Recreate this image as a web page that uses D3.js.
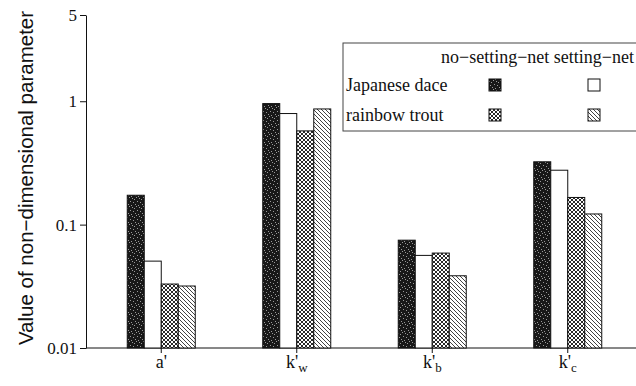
<!DOCTYPE html>
<html>
<head>
<meta charset="utf-8">
<script src="https://cdn.jsdelivr.net/npm/d3@7"></script>
<style>
  body { margin: 0; background: #fff; }
  svg { display: block; }
</style>
</head>
<body>
<div id="chart"></div>
<script>
// categories (parameter names) and their subscripts
var categories = ["a", "k", "k", "k"];
var subscripts = ["", "w", "b", "c"];

// series: species x condition
var species = ["Japanese dace", "rainbow trout"];
var conditions = ["no\u2212setting\u2212net", "setting\u2212net"];

// values (log axis)
var daceNoNet  = [0.173, 0.957, 0.0748, 0.323];
var daceNet    = [0.0506, 0.795, 0.0563, 0.276];
var troutNoNet = [0.033, 0.575, 0.0588, 0.166];
var troutNet   = [0.0318, 0.866, 0.0385, 0.122];

var yTicks = [0.01, 0.1, 1, 5];

var W = 636, H = 386;

var svg = d3.select("#chart")
    .append("svg")
    .attr("width", W)
    .attr("height", H);

// fill patterns
var defs = svg.append("defs");

var dark = defs.append("pattern")
    .attr("id", "dark")
    .attr("patternUnits", "userSpaceOnUse")
    .attr("width", 7).attr("height", 9);
dark.append("rect").attr("width", 7).attr("height", 9).attr("fill", "#181818");
[[1, 1], [4, 3], [2, 6], [5, 7], [6, 0], [0, 4], [3, 8]].forEach(function (p) {
    dark.append("rect").attr("x", p[0]).attr("y", p[1])
        .attr("width", 1).attr("height", 1).attr("fill", "#999");
});

var cross = defs.append("pattern")
    .attr("id", "cross")
    .attr("patternUnits", "userSpaceOnUse")
    .attr("width", 4).attr("height", 4);
cross.append("rect").attr("width", 4).attr("height", 4).attr("fill", "#fff");
cross.append("path")
    .attr("d", "M0,0L4,4M-1,3L1,5M3,-1L5,1M0,4L4,0M-1,1L1,-1M3,5L5,3")
    .attr("stroke", "#111").attr("stroke-width", 0.9);

var hatch = defs.append("pattern")
    .attr("id", "hatch")
    .attr("patternUnits", "userSpaceOnUse")
    .attr("width", 4).attr("height", 4);
hatch.append("rect").attr("width", 4).attr("height", 4).attr("fill", "#fff");
hatch.append("path")
    .attr("d", "M0,0L4,4M-1,3L1,5M3,-1L5,1")
    .attr("stroke", "#111").attr("stroke-width", 0.8);

var series = [
    {values: daceNoNet, fill: "url(#dark)"},
    {values: daceNet, fill: "#fff"},
    {values: troutNoNet, fill: "url(#cross)"},
    {values: troutNet, fill: "url(#hatch)"}
];

// scales
var x = d3.scaleBand()
    .domain(d3.range(categories.length))
    .range([93.5, 635.5])
    .padding(0);

var xs = d3.scaleBand()
    .domain(d3.range(series.length))
    .range([-34, 34]);

var y = d3.scaleLog()
    .domain([0.01, 5])
    .range([348, 15]);

var serif = "'Liberation Serif', 'Times New Roman', serif";

// y axis
var yAxis = svg.append("g")
    .attr("transform", "translate(86,0)")
    .call(d3.axisLeft(y)
        .tickValues(yTicks)
        .tickFormat(function (d) { return d; })
        .tickSize(6)
        .tickSizeOuter(0));
yAxis.selectAll("text")
    .attr("font-family", serif)
    .attr("font-size", 17)
    .attr("fill", "#111");
yAxis.selectAll("line, path").attr("stroke", "#111");

// x axis
svg.append("line")
    .attr("x1", 86).attr("x2", 636)
    .attr("y1", y(0.01)).attr("y2", y(0.01))
    .attr("stroke", "#111");

var xAxis = svg.append("g")
    .attr("transform", "translate(0," + y(0.01) + ")")
    .call(d3.axisBottom(x).tickSize(5).tickFormat(""));
xAxis.select(".domain").remove();
xAxis.selectAll("line").attr("stroke", "#111");

var labels = svg.append("g")
    .selectAll("text")
    .data(categories)
    .enter()
    .append("text")
    .attr("x", function (d, i) { return x(i) + x.bandwidth() / 2; })
    .attr("y", 368)
    .attr("text-anchor", "middle")
    .attr("font-family", serif)
    .attr("font-size", 18)
    .attr("fill", "#111");
labels.append("tspan").text(function (d) { return d; });
labels.append("tspan").text("'");
labels.append("tspan")
    .attr("dy", 4)
    .attr("font-size", 13)
    .text(function (d, i) { return subscripts[i]; });

// bars
var groups = svg.append("g")
    .selectAll("g")
    .data(series)
    .enter()
    .append("g");

groups.selectAll("rect")
    .data(function (s, si) {
        return s.values.map(function (v, ci) {
            return {v: v, ci: ci, si: si, fill: s.fill};
        });
    })
    .enter()
    .append("rect")
    .attr("x", function (d) { return x(d.ci) + x.bandwidth() / 2 + xs(d.si); })
    .attr("width", xs.bandwidth())
    .attr("y", function (d) { return y(d.v); })
    .attr("height", function (d) { return y(0.01) - y(d.v); })
    .attr("fill", function (d) { return d.fill; })
    .attr("stroke", "#111")
    .attr("stroke-width", 1);

// y axis title
svg.append("text")
    .attr("transform", "translate(33,178) rotate(-90)")
    .attr("text-anchor", "middle")
    .attr("font-family", "'Liberation Sans', Arial, sans-serif")
    .attr("font-size", 20.5)
    .attr("fill", "#111")
    .text("Value of non\u2212dimensional parameter");

// legend
var legend = svg.append("g");
legend.append("rect")
    .attr("x", 343).attr("y", 43)
    .attr("width", 310).attr("height", 88)
    .attr("fill", "#fff")
    .attr("stroke", "#444")
    .attr("stroke-width", 1);

legend.append("text")
    .attr("x", 441).attr("y", 63)
    .attr("font-family", serif)
    .attr("font-size", 18)
    .attr("fill", "#111")
    .text(conditions.join(" "));

legend.selectAll(".sp")
    .data(species)
    .enter()
    .append("text")
    .attr("class", "sp")
    .attr("x", 346)
    .attr("y", function (d, i) { return 91 + i * 30; })
    .attr("font-family", serif)
    .attr("font-size", 18)
    .attr("fill", "#111")
    .text(function (d) { return d; });

legend.selectAll(".sw")
    .data(series)
    .enter()
    .append("rect")
    .attr("class", "sw")
    .attr("x", function (d, i) { return (i % 2 === 0) ? 489 : 588; })
    .attr("y", function (d, i) { return 79 + Math.floor(i / 2) * 30; })
    .attr("width", 12).attr("height", 12)
    .attr("fill", function (d) { return d.fill; })
    .attr("stroke", "#111")
    .attr("stroke-width", 1);
</script>
</body>
</html>
